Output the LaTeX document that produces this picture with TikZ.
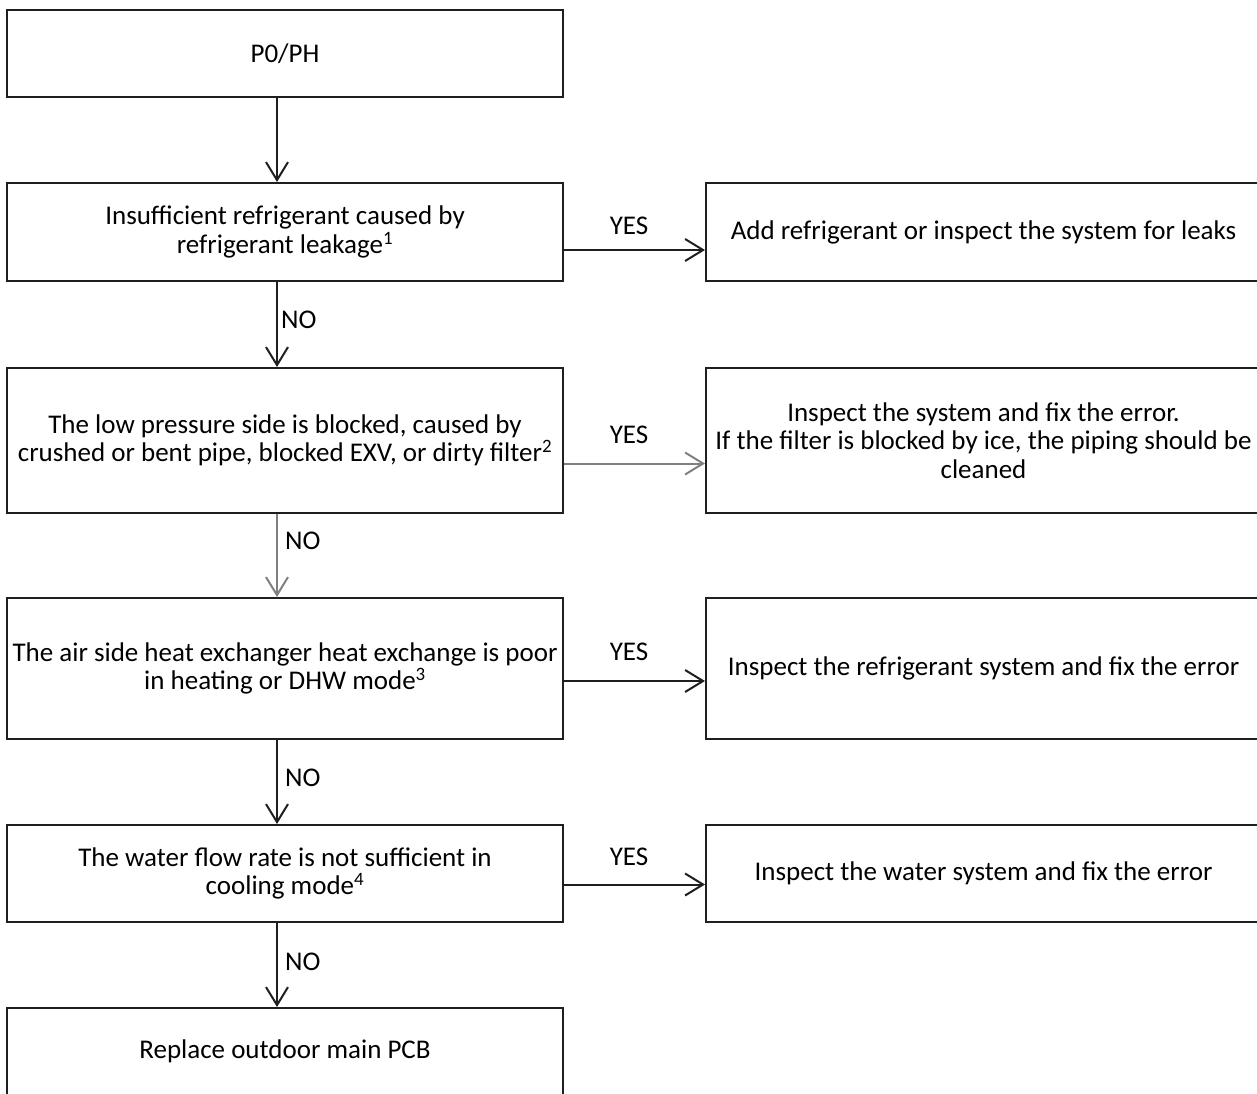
\documentclass[tikz,border=0pt]{standalone}
\usepackage{fontspec}
\setmainfont{Carlito}
\usetikzlibrary{arrows.meta}
\begin{document}
\begin{tikzpicture}[x=1pt,y=-1pt,
  box/.style={draw=black!88,line width=2pt,rectangle,inner sep=0pt,align=center,
    font=\fontsize{27}{28.5}\selectfont},
  lbox/.style={box,minimum width=556pt},
  rbox/.style={box,minimum width=555pt},
  lbl/.style={inner sep=0pt,font=\fontsize{27}{28.5}\selectfont},
  arr/.style={draw=black!88,line width=2pt,-{Straight Barb[length=18pt,width=22pt,line width=2pt]}},
  garr/.style={arr,draw=black!50}
]
\useasboundingbox (0,0) rectangle (1257,1093);
\node[lbox,minimum height=87pt] (b1) at (285,53.5) {P0/PH};
\node[lbox,minimum height=98pt] (b2) at (285,232) {Insufficient refrigerant caused by\\refrigerant leakage\textsuperscript{1}};
\node[lbox,minimum height=145pt] (b3) at (285,440.5) {The low pressure side is blocked, caused by\\crushed or bent pipe, blocked EXV, or dirty filter\textsuperscript{2}};
\node[lbox,minimum height=141pt] (b4) at (285,668.5) {The air side heat exchanger heat exchange is poor\\in heating or DHW mode\textsuperscript{3}};
\node[lbox,minimum height=97pt] (b5) at (285,873.5) {The water flow rate is not sufficient in\\cooling mode\textsuperscript{4}};
\node[lbox,minimum height=87pt] (b6) at (285,1051.5) {Replace outdoor main PCB};

\node[rbox,minimum height=98pt] (r2) at (983.5,232) {Add refrigerant or inspect the system for leaks};
\node[rbox,minimum height=145pt] (r3) at (983.5,440.5) {Inspect the system and fix the error.\\If the filter is blocked by ice, the piping should be\\cleaned};
\node[rbox,minimum height=141pt] (r4) at (983.5,668.5) {Inspect the refrigerant system and fix the error};
\node[rbox,minimum height=97pt] (r5) at (983.5,873.5) {Inspect the water system and fix the error};

\draw[arr] ([xshift=-8pt]b1.south) -- ([xshift=-8pt]b2.north);
\draw[arr] ([xshift=-8pt]b2.south) -- ([xshift=-8pt]b3.north);
\draw[garr] ([xshift=-8pt]b3.south) -- ([xshift=-8pt]b4.north);
\draw[arr] ([xshift=-8pt]b4.south) -- ([xshift=-8pt]b5.north);
\draw[arr] ([xshift=-8pt]b5.south) -- ([xshift=-8pt]b6.north);

\draw[arr] ([yshift=-18pt]b2.east) -- ([yshift=-18pt]r2.west);
\draw[garr] ([yshift=-23pt]b3.east) -- ([yshift=-23pt]r3.west);
\draw[arr] ([yshift=-12.5pt]b4.east) -- ([yshift=-12.5pt]r4.west);
\draw[arr] ([yshift=-11pt]b5.east) -- ([yshift=-11pt]r5.west);

\node[lbl] (y2) at (629,226) {YES};
\node[lbl] (y3) at (629,435) {YES};
\node[lbl] (y4) at (629,652) {YES};
\node[lbl] (y5) at (629,857) {YES};

\node[lbl,anchor=west] (n2) at (281,320) {NO};
\node[lbl,anchor=west] (n3) at (285,541) {NO};
\node[lbl,anchor=west] (n4) at (285,778) {NO};
\node[lbl,anchor=west] (n5) at (285,962) {NO};
\end{tikzpicture}
\end{document}
